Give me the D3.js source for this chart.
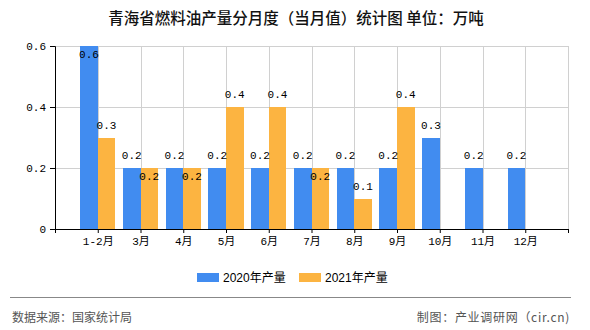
<!DOCTYPE html>
<html><head><meta charset="utf-8">
<script src="https://cdn.jsdelivr.net/npm/d3@7/dist/d3.min.js"></script>
<style>
html,body{margin:0;padding:0;background:#fff;}
svg{display:block;}
</style></head>
<body>
<svg id="c" width="590" height="330"></svg>
<script>
const title = "青海省燃料油产量分月度（当月值）统计图 单位：万吨";
const categories = ["1-2月","3月","4月","5月","6月","7月","8月","9月","10月","11月","12月"];
const seriesNames = ["2020年产量","2021年产量"];
const values2020 = [0.6,0.2,0.2,0.2,0.2,0.2,0.2,0.2,0.3,0.2,0.2];
const values2021 = [0.3,0.2,0.2,0.4,0.4,0.2,0.1,0.4,null,null,null];
const yTicks = [0,0.2,0.4,0.6];
const colors = ["#418CF0","#FCB441"];
const sourceText = "数据来源：国家统计局";
const creditText = "制图：产业调研网（cir.cn)";

const svg = d3.select("#c");
const monoFont = "'Liberation Mono','DejaVu Sans Mono','Noto Sans CJK SC',monospace";
const cjkFont = "'Noto Sans CJK SC','Noto Sans',sans-serif";

const pLeft = 55, pRight = 568, pTop = 46, pBottom = 229;
const x = d3.scaleLinear().domain([0, categories.length + 1]).range([pLeft, pRight]);
const y = d3.scaleLinear().domain([0, 0.6]).range([pBottom, pTop]);
const step = x(1) - x(0);
const bw = step * 0.41;

// title
svg.append("text").attr("x", 296).attr("y", 17).attr("text-anchor","middle")
  .attr("dominant-baseline","central").attr("font-family", cjkFont)
  .attr("font-size", 15.5).attr("font-weight", 500).attr("fill","#111").text(title);

// gridlines
const grid = svg.append("g");
grid.selectAll("line.v").data(d3.range(1, categories.length + 2)).join("line")
  .attr("x1", d => Math.round(x(d)) + 0.5).attr("x2", d => Math.round(x(d)) + 0.5).attr("y1", pTop).attr("y2", pBottom)
  .attr("stroke","#d0d0d0").attr("stroke-width",1);
grid.selectAll("line.h").data(yTicks.filter(d => d > 0)).join("line")
  .attr("x1", pLeft).attr("x2", pRight).attr("y1", d => Math.round(y(d)) + 0.5).attr("y2", d => Math.round(y(d)) + 0.5)
  .attr("stroke","#d0d0d0").attr("stroke-width",1);

// bars
const data = categories.map((c, i) => ({c, i, v: [values2020[i], values2021[i]]}));
const bars = svg.append("g");
[0,1].forEach(s => {
  bars.selectAll("rect.s"+s).data(data.filter(d => d.v[s] != null)).join("rect")
    .attr("x", d => s === 0 ? x(d.i + 1) - bw : x(d.i + 1))
    .attr("width", bw)
    .attr("y", d => y(d.v[s]))
    .attr("height", d => y(0) - y(d.v[s]))
    .attr("fill", colors[s]).attr("shape-rendering","crispEdges");
});

// value labels
const lab = svg.append("g").attr("font-family", monoFont).attr("font-size", 11).attr("fill","#000");
[0,1].forEach(s => {
  lab.selectAll("text.s"+s).data(data.filter(d => d.v[s] != null)).join("text")
    .attr("x", d => (s === 0 ? x(d.i + 1) - bw/2 : x(d.i + 1) + bw/2))
    .attr("y", d => {
      const t = y(d.v[s]);
      const inside = (t - 12 < pTop) || (s === 1 && d.v[0] === d.v[1]);
      return inside ? t + 9 : t - 12;
    })
    .attr("text-anchor","middle").attr("dominant-baseline","central")
    .text(d => d3.format(".1f")(d.v[s]));
});

// axes
const yAxis = svg.append("g").attr("transform", `translate(${pLeft},0)`)
  .call(d3.axisLeft(y).tickValues(yTicks).tickSize(5).tickPadding(4)
        .tickFormat(d => d === 0 ? "0" : d3.format(".1f")(d)));
yAxis.select(".domain").attr("stroke","#000");
yAxis.selectAll(".tick line").attr("stroke","#000");
yAxis.selectAll("text").attr("font-family", monoFont).attr("font-size", 11).attr("fill","#000");

const xAxis = svg.append("g").attr("transform", `translate(0,${pBottom})`)
  .call(d3.axisBottom(x).tickValues(d3.range(0, categories.length + 2)).tickSize(4).tickPadding(4)
        .tickFormat(d => (d >= 1 && d <= categories.length) ? categories[d - 1] : ""));
xAxis.select(".domain").attr("stroke","#000").attr("d", `M${pLeft},0.5H${pRight}`);
xAxis.selectAll(".tick line").attr("stroke","#000");
xAxis.selectAll("text").attr("font-family", monoFont).attr("font-size", 11).attr("fill","#000");

// legend
const legend = svg.append("g");
const legendX = [197, 299];
seriesNames.forEach((n, i) => {
  legend.append("rect").attr("x", legendX[i]).attr("y", 273).attr("width", 22).attr("height", 9)
    .attr("fill", colors[i]);
  legend.append("text").attr("x", legendX[i] + 26).attr("y", 278)
    .attr("dominant-baseline","central").attr("font-family", "'Liberation Sans','Noto Sans CJK SC',sans-serif")
    .attr("font-size", 12).attr("fill","#000").text(n);
});

// footer
svg.append("line").attr("x1", 10).attr("x2", 571).attr("y1", 297.5).attr("y2", 297.5)
  .attr("stroke","#888").attr("stroke-width",1);
svg.append("text").attr("x", 12).attr("y", 316).attr("dominant-baseline","central")
  .attr("font-family", cjkFont).attr("font-size", 12).attr("fill","#555").text(sourceText);
svg.append("text").attr("x", 570).attr("y", 316).attr("text-anchor","end").attr("dominant-baseline","central")
  .attr("font-family", cjkFont).attr("font-size", 12).attr("letter-spacing", 0.7).attr("fill","#555").text(creditText);
</script>
</body></html>
